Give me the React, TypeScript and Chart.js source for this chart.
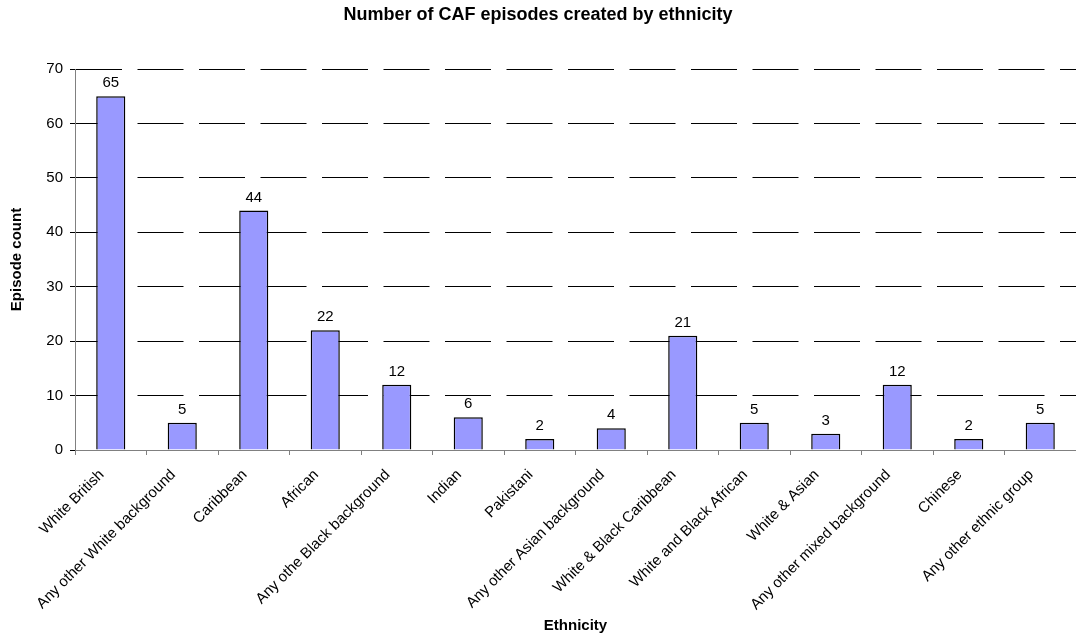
import React, { useEffect, useRef } from "react";
import { Chart, registerables } from "chart.js";

Chart.register(...registerables);

const categories: string[] = [
  "White British",
  "Any other White background",
  "Caribbean",
  "African",
  "Any othe Black background",
  "Indian",
  "Pakistani",
  "Any other Asian background",
  "White & Black Caribbean",
  "White and Black African",
  "White & Asian",
  "Any other mixed background",
  "Chinese",
  "Any other ethnic group",
];

const episodeCounts: number[] = [65, 5, 44, 22, 12, 6, 2, 4, 21, 5, 3, 12, 2, 5];

const chartTitle = "Number of CAF episodes created by ethnicity";
const xAxisTitle = "Ethnicity";
const yAxisTitle = "Episode count";
const yMin = 0;
const yMax = 70;
const yStep = 10;

const FONT = "'Liberation Sans', Arial, Helvetica, sans-serif";

// Writes each bar's value just above its top edge.
const valueLabels = {
  id: "valueLabels",
  afterDatasetsDraw(chart: any) {
    const { ctx } = chart;
    const meta = chart.getDatasetMeta(0);
    const values = chart.data.datasets[0].data as number[];
    ctx.save();
    ctx.font = `15px ${FONT}`;
    ctx.fillStyle = "#000";
    ctx.textAlign = "center";
    ctx.textBaseline = "alphabetic";
    meta.data.forEach((bar: any, i: number) => {
      ctx.fillText(String(values[i]), bar.x, bar.y - 9);
    });
    ctx.restore();
  },
};

export default function App() {
  const canvasRef = useRef<HTMLCanvasElement | null>(null);

  useEffect(() => {
    const canvas = canvasRef.current;
    if (!canvas) return;
    const chart = new Chart(canvas, {
      type: "bar",
      data: {
        labels: categories,
        datasets: [
          {
            label: yAxisTitle,
            data: episodeCounts,
            backgroundColor: "#9999FF",
            borderColor: "#000000",
            borderWidth: 1.5,
            categoryPercentage: 1,
            barPercentage: 0.407,
          },
        ],
      },
      options: {
        responsive: false,
        animation: false,
        layout: { padding: 0 },
        plugins: {
          legend: { display: false },
          tooltip: { enabled: false },
          title: {
            display: true,
            text: chartTitle,
            color: "#000",
            font: { family: FONT, size: 18, weight: "bold", lineHeight: 1.2 },
            padding: { top: 4, bottom: 43.4 },
          },
        },
        scales: {
          x: {
            afterFit(scale: any) {
              scale.height = 189;
            },
            grid: {
              display: true,
              drawOnChartArea: false,
              drawTicks: true,
              tickLength: 5,
              tickColor: "#808080",
              offset: true,
            },
            border: { display: true, color: "#808080", width: 1 },
            ticks: {
              autoSkip: false,
              minRotation: 45,
              maxRotation: 45,
              color: "#000",
              padding: 11,
              labelOffset: -9,
              font: { family: FONT, size: 15 },
            },
            title: {
              display: true,
              text: xAxisTitle,
              color: "#000",
              font: { family: FONT, size: 15, weight: "bold", lineHeight: 1.2 },
              padding: { top: 0, bottom: 4 },
            },
          },
          y: {
            min: yMin,
            max: yMax,
            afterFit(scale: any) {
              scale.width = 75;
            },
            grid: {
              color: (ctx: any) => (ctx.tick && ctx.tick.value === 0 ? "rgba(0,0,0,0)" : "#000"),
              lineWidth: 1,
              tickLength: 5,
              tickColor: "#000",
            },
            border: { display: true, color: "#808080", width: 1, dash: [46, 15.5] },
            ticks: {
              stepSize: yStep,
              color: "#000",
              padding: 7,
              font: { family: FONT, size: 15 },
            },
            title: {
              display: true,
              text: yAxisTitle,
              color: "#000",
              font: { family: FONT, size: 15, weight: "bold", lineHeight: 1.2 },
              padding: { top: 8, bottom: 0 },
            },
          },
        },
      },
      plugins: [valueLabels],
    });
    return () => chart.destroy();
  }, []);

  return (
    <div style={{ position: "fixed", left: 0, top: 0, width: 1076, height: 639, background: "#fff" }}>
      <canvas ref={canvasRef} width={1076} height={639} />
    </div>
  );
}
